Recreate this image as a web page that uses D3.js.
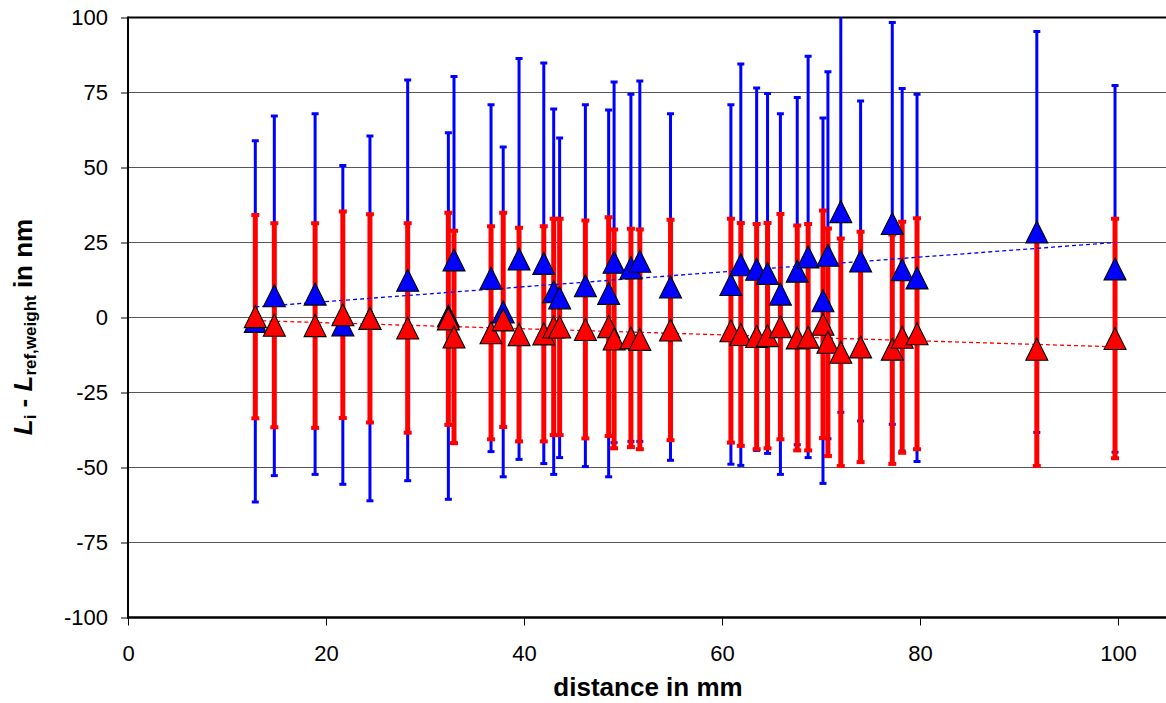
<!DOCTYPE html>
<html><head><meta charset="utf-8">
<script src="https://cdn.jsdelivr.net/npm/d3@7"></script>
<style>
html,body{margin:0;padding:0;background:#fff;overflow:hidden;}
svg{display:block;font-family:"Liberation Sans",Arial,Helvetica,sans-serif;}
</style>
</head><body>
<svg id="chart" width="1166" height="703"></svg>
<script>
// ---- data ----
const distance  = [12.86,14.78,18.9,21.7,24.44,28.25,32.36,32.93,36.67,37.9,39.5,42.0,43.0,43.6,46.2,48.55,49.1,50.8,51.7,54.8,60.9,61.9,63.5,64.6,65.9,67.6,68.7,70.2,70.7,72.0,74.0,77.2,78.2,79.7,91.8,99.7];
const blueValue = [-1.3,7.25,7.8,-2.45,-0.3,12.4,0.5,19.2,13.1,1.85,19.5,18.05,8.6,6.55,10.6,8.05,18.4,16.55,18.75,10.15,11.0,17.6,16.1,14.7,7.8,15.45,20.2,5.6,20.75,35.3,18.85,31.35,15.9,13.2,28.5,16.2];
const blueError = [60.2,59.95,60.1,53.15,60.8,66.8,61.1,61.1,57.8,54.95,66.8,66.75,60.9,53.25,60.3,61.15,60.1,57.85,60.05,57.75,59.9,66.9,60.4,60.0,60.1,57.85,66.9,60.9,61.15,66.9,53.35,66.95,60.4,61.2,66.8,61.1];
const redValue  = [0.3,-2.6,-2.7,0.9,-0.3,-3.5,-0.45,-6.5,-5.1,-0.8,-5.7,-5.45,-3.15,-3.15,-4.0,-3.05,-7.15,-6.8,-7.3,-4.15,-4.4,-5.65,-6.35,-6.05,-3.05,-6.8,-6.55,-2.25,-8.25,-11.6,-9.8,-10.55,-6.6,-5.4,-10.6,-7.0];
const redError  = [33.9,34.0,34.1,34.4,34.7,34.9,35.35,35.4,35.5,35.7,35.6,35.85,36.05,36.05,36.3,36.45,36.45,36.4,36.6,36.75,37.3,37.15,37.55,37.55,37.55,37.5,37.75,37.95,37.95,37.9,38.4,38.25,38.5,38.5,38.9,39.9];
const xTicks = [0,20,40,60,80,100];
const yTicks = [-100,-75,-50,-25,0,25,50,75,100];
const xTitle = "distance in mm";
const blueColor = "#0000ff", redColor = "#ff0000";

// ---- layout ----
const svg = d3.select("#chart");
const x = d3.scaleLinear().domain([0,105]).range([128, 1167.5]);
const y = d3.scaleLinear().domain([-100,100]).range([617.5, 17.5]);
const x0 = x.range()[0], x1 = x.range()[1], yTop = y.range()[1], yBot = y.range()[0];

svg.append("defs").append("clipPath").attr("id","plotClip")
  .append("rect").attr("x",x0).attr("y",yTop).attr("width",x1-x0).attr("height",yBot-yTop);

// gridlines
svg.append("g").selectAll("line").data(yTicks.filter(t=>t>-100 && t<100)).join("line")
  .attr("x1",x0).attr("x2",x1).attr("y1",d=>y(d)).attr("y2",d=>y(d))
  .attr("stroke","#555").attr("stroke-width",1.1);

// axes
const fmt = d => String(d);
const yAxis = d3.axisLeft(y).tickValues(yTicks).tickSize(7).tickPadding(13).tickFormat(fmt);
const gy = svg.append("g").attr("transform",`translate(${x0},0)`).call(yAxis);
const xAxis = d3.axisBottom(x).tickValues(xTicks).tickSize(8).tickPadding(20).tickFormat(fmt);
const gx = svg.append("g").attr("transform",`translate(0,${yBot})`).call(xAxis);
[gx,gy].forEach(g=>{
  g.select(".domain").remove();
  g.selectAll(".tick line").attr("stroke","#000").attr("stroke-width",1);
  g.selectAll(".tick text").attr("fill","#000").style("font-size","22px").style("font-family",'"Liberation Sans",Arial,sans-serif');
});

// frame
const frame = svg.append("g");
frame.append("line").attr("x1",x0).attr("x2",x1).attr("y1",yTop).attr("y2",yTop).attr("stroke","#000").attr("stroke-width",2);
frame.append("line").attr("x1",x0).attr("x2",x1).attr("y1",yBot).attr("y2",yBot).attr("stroke","#000").attr("stroke-width",2.5);
frame.append("line").attr("x1",x0).attr("x2",x0).attr("y1",yTop-1).attr("y2",yBot+1.2).attr("stroke","#000").attr("stroke-width",2);

// data rows
const rows = distance.map((d,i)=>({x:d, bv:blueValue[i], be:blueError[i], rv:redValue[i], re:redError[i]}));
const plot = svg.append("g").attr("clip-path","url(#plotClip)");

function errorBars(key, errKey, color, lw, capW, capH){
  const g = plot.append("g");
  g.selectAll("line.bar").data(rows).join("line").attr("class","bar")
    .attr("x1",d=>x(d.x)).attr("x2",d=>x(d.x))
    .attr("y1",d=>y(d[key]-d[errKey])).attr("y2",d=>y(d[key]+d[errKey]))
    .attr("stroke",color).attr("stroke-width",lw);
  ["lo","hi"].forEach(side=>{
    g.selectAll("line.cap"+side).data(rows).join("line").attr("class","cap"+side)
      .attr("x1",d=>x(d.x)-capW/2).attr("x2",d=>x(d.x)+capW/2)
      .attr("y1",d=>y(side==="lo"?d[key]-d[errKey]:d[key]+d[errKey]))
      .attr("y2",d=>y(side==="lo"?d[key]-d[errKey]:d[key]+d[errKey]))
      .attr("stroke",color).attr("stroke-width",capH);
  });
}
errorBars("bv","be",blueColor,3,7,3);
errorBars("rv","re",redColor,5,8,4);

// linear trendlines (least squares fit)
function fit(xs, ys){
  const mx=d3.mean(xs), my=d3.mean(ys);
  const b=d3.sum(xs,(v,i)=>(v-mx)*(ys[i]-my))/d3.sum(xs,v=>(v-mx)*(v-mx));
  return {a:my-b*mx,b};
}
[[blueValue,blueColor],[redValue,redColor]].forEach(([vals,color])=>{
  const f = fit(distance, vals);
  const ext = d3.extent(distance);
  plot.append("line")
    .attr("x1",x(ext[0])).attr("x2",x(ext[1]))
    .attr("y1",y(f.a+f.b*ext[0])).attr("y2",y(f.a+f.b*ext[1]))
    .attr("stroke",color).attr("stroke-width",1.3).attr("stroke-dasharray","4,3");
});

// triangle markers
const tri = (cx,cy)=>`M${cx},${cy-11}L${cx+11},${cy+11}L${cx-11},${cy+11}Z`;
svg.append("g").selectAll("path").data(rows).join("path")
  .attr("d",d=>tri(x(d.x),y(d.bv))).attr("fill",blueColor).attr("stroke","#000").attr("stroke-width",1.1);
svg.append("g").selectAll("path").data(rows).join("path")
  .attr("d",d=>tri(x(d.x),y(d.rv))).attr("fill",redColor).attr("stroke","#000").attr("stroke-width",1.1);

// axis titles
svg.append("text").attr("x",648).attr("y",696).attr("text-anchor","middle")
  .style("font-size","26px").style("font-weight","bold").attr("fill","#000").text(xTitle);

const yt = svg.append("text").attr("transform","translate(32,327) rotate(-90)")
  .attr("text-anchor","middle").style("font-size","26px").style("font-weight","bold").attr("fill","#000");
yt.append("tspan").style("font-style","italic").text("L");
yt.append("tspan").attr("dy",4).style("font-size","17px").text("i");
yt.append("tspan").attr("dy",-4).text(" - ");
yt.append("tspan").style("font-style","italic").text("L");
yt.append("tspan").attr("dy",4).style("font-size","17px").text("ref,weight");
yt.append("tspan").attr("dy",-4).text(" in nm");
</script>
</body></html>
